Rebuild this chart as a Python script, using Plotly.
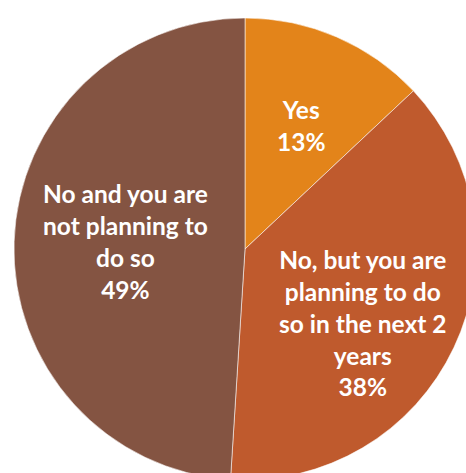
import plotly.graph_objects as go

# Survey answers and their shares (%)
categories = [
    "Yes",
    "No, but you are planning to do so in the next 2 years",
    "No and you are not planning to do so",
]
shares = [13, 38, 49]
wrapped_labels = [
    "Yes",
    "No, but you are<br>planning to do<br>so in the next 2<br>years",
    "No and you are<br>not planning to<br>do so",
]
slice_colors = ["#E3841A", "#BF5A2D", "#845442"]

# Label anchor points (pixels from the top-left of the figure)
label_px = [(301, 125), (363, 323), (125, 241)]

W, H = 476, 480

fig = go.Figure(
    go.Pie(
        labels=categories,
        values=shares,
        hoverinfo="label+percent",
        sort=False,
        direction="clockwise",
        rotation=0,
        textinfo="none",
        marker=dict(colors=slice_colors, line=dict(color="rgba(255,255,255,0.55)", width=1)),
        domain=dict(x=[14 / W, 1], y=[0, 1 - 18 / H]),
        showlegend=False,
    )
)

for text, value, (px, py) in zip(wrapped_labels, shares, label_px):
    fig.add_annotation(
        text=f"{text}<br>{value}%",
        x=px / W,
        y=1 - py / H,
        xref="paper",
        yref="paper",
        xanchor="center",
        yanchor="middle",
        showarrow=False,
        align="center",
        font=dict(family="Lato", size=24.5, color="white", weight="bold"),
    )

fig.update_layout(
    width=W,
    height=H,
    margin=dict(l=0, r=0, t=0, b=0),
    paper_bgcolor="white",
    plot_bgcolor="white",
)

fig.write_html("out.html")
